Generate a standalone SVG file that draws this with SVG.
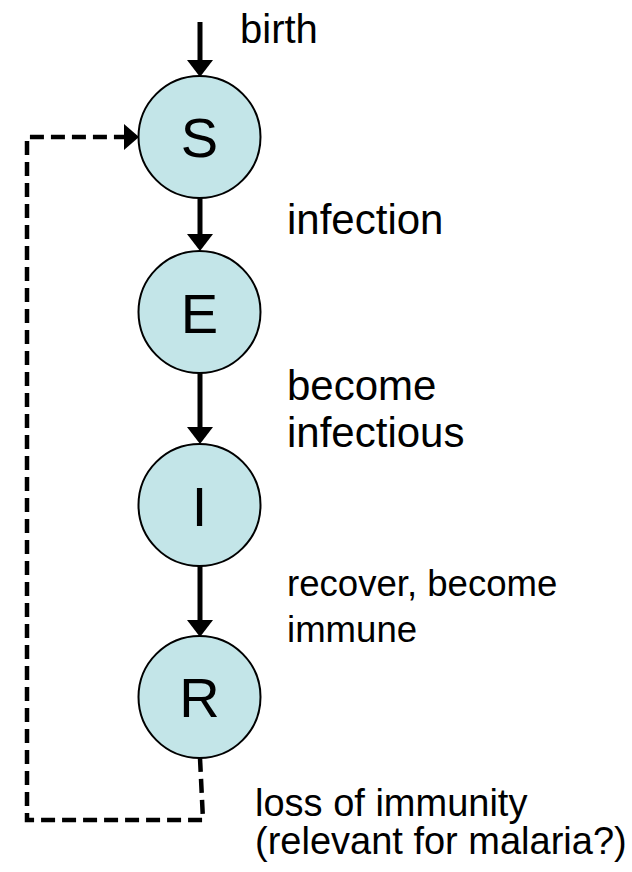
<svg xmlns="http://www.w3.org/2000/svg" width="632" height="872" viewBox="0 0 632 872">
<style>
.node{fill:#c3e5e8;stroke:#000;stroke-width:2}
.letter{font-family:"Liberation Sans",Arial,sans-serif;font-size:56px;fill:#000;text-anchor:middle}
.lbl{font-family:"Liberation Sans",Arial,sans-serif;fill:#000}
.edge{stroke:#000;stroke-width:5;fill:none}
.dash{stroke:#000;stroke-width:4.5;fill:none;stroke-dasharray:14 7}
.head{fill:#000}
</style>
<rect width="632" height="872" fill="#fff"/>
<g id="connectors">
  <line class="edge" x1="200" y1="22" x2="200" y2="62"/>
  <polygon class="head" points="187,60 213,60 200,77"/>
  <line class="edge" x1="200" y1="198" x2="200" y2="236"/>
  <polygon class="head" points="187,234 213,234 200,251"/>
  <line class="edge" x1="200" y1="373" x2="200" y2="429"/>
  <polygon class="head" points="187,427 213,427 200,444"/>
  <line class="edge" x1="200" y1="566" x2="200" y2="622"/>
  <polygon class="head" points="187,620 213,620 200,637"/>
  <path class="dash" d="M200,758 L203,820 L27,820 L27,137 L126,137"/>
  <polygon class="head" points="124,124 139,137 124,150"/>
</g>
<g id="node-S">
  <circle class="node" cx="199.5" cy="137" r="61"/>
  <text class="letter" x="199.5" y="157">S</text>
</g>
<g id="node-E">
  <circle class="node" cx="199.5" cy="312" r="61"/>
  <text class="letter" x="199.5" y="333">E</text>
</g>
<g id="node-I">
  <circle class="node" cx="199.5" cy="505" r="61"/>
  <text class="letter" x="199.5" y="526">I</text>
</g>
<g id="node-R">
  <circle class="node" cx="199.5" cy="697" r="61"/>
  <text class="letter" x="199.5" y="717">R</text>
</g>
<g id="labels">
  <text class="lbl" x="240" y="43" font-size="40">birth</text>
  <text class="lbl" x="287" y="234" font-size="42">infection</text>
  <text class="lbl" x="287" y="400" font-size="42">become</text>
  <text class="lbl" x="287" y="447" font-size="42">infectious</text>
  <text class="lbl" x="287" y="596" font-size="36.6">recover, become</text>
  <text class="lbl" x="287" y="642" font-size="36.6">immune</text>
  <text class="lbl" x="255" y="816" font-size="38">loss of immunity</text>
  <text class="lbl" x="255" y="854" font-size="38">(relevant for malaria?)</text>
</g>
</svg>
